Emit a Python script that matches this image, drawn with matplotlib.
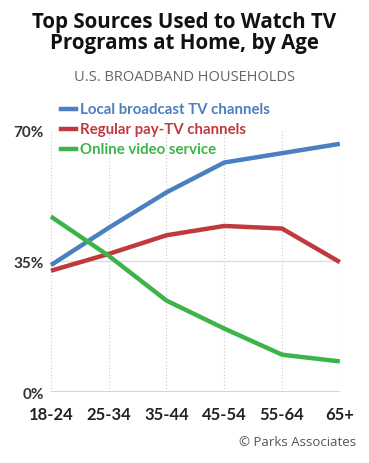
import matplotlib
matplotlib.use('Agg')
import matplotlib.pyplot as plt

# Data
age_groups = ['18-24', '25-34', '35-44', '45-54', '55-64', '65+']
local_broadcast = [34, 44, 53.5, 61.5, 64, 66.5]
regular_pay_tv = [32.5, 37, 42, 44.5, 43.8, 34.8]
online_video = [47, 36.5, 24.5, 17, 10, 8.2]
series_names = ['Local broadcast TV channels', 'Regular pay-TV channels', 'Online video service']
y_ticks = [0, 35, 70]
y_tick_labels = ['0%', '35%', '70%']

# Styles
colors = ['#4a7fc0', '#c0393f', '#3cb449']
label_font = 'Lato'

figure = plt.figure(figsize=(3.69, 4.64), dpi=100)
axes = figure.add_axes([0.138, 0.153, 0.783, 0.563])

x_positions = list(range(len(age_groups)))
for values, color in zip([local_broadcast, regular_pay_tv, online_video], colors):
    axes.plot(x_positions, values, color=color, linewidth=3.2, clip_on=False,
              solid_capstyle='butt', zorder=3)

# Grid lines
for x in x_positions:
    axes.axvline(x, color='#c8c8c8', linewidth=0.8, linestyle=(0, (1, 2)), zorder=1)
axes.axhline(35, color='#dddddd', linewidth=1.0, zorder=1)
axes.axhline(0, color='#cccccc', linewidth=1.2, zorder=1)

axes.set_xlim(0, len(age_groups) - 1)
axes.set_ylim(0, 70)
axes.set_xticks(x_positions)
axes.set_xticklabels(age_groups, fontsize=12, fontweight='bold', family=label_font, color='#222222')
axes.set_yticks(y_ticks)
axes.set_yticklabels(y_tick_labels, fontsize=11, fontweight='bold', family=label_font, color='#333333')
axes.tick_params(length=0, pad=5)
axes.tick_params(axis='x', pad=10)
for spine in axes.spines.values():
    spine.set_visible(False)

# Titles
figure.text(0.5, 0.975, 'Top Sources Used to Watch TV\nPrograms at Home, by Age', ha='center', va='top',
            fontsize=14.8, fontweight='bold', family='Open Sans', linespacing=1.0, color='#111111')
figure.text(0.5, 0.832, 'U.S. BROADBAND HOUSEHOLDS', ha='center', va='center', fontsize=10.5,
            family='Open Sans', color='#666666')

# Legend
legend_y = [0.763, 0.720, 0.677]
for name, color, y in zip(series_names, colors, legend_y):
    figure.add_artist(plt.Line2D([0.165, 0.205], [y, y], color=color, linewidth=3.2,
                                 transform=figure.transFigure))
    figure.text(0.218, y, name, ha='left', va='center', fontsize=10.8, fontweight='bold',
                family=label_font, color=color)

figure.text(0.965, 0.047, '\u00a9 Parks Associates', ha='right', va='center', fontsize=9.5,
            family='Open Sans', color='#555555')

plt.savefig('out.png', dpi=100)
